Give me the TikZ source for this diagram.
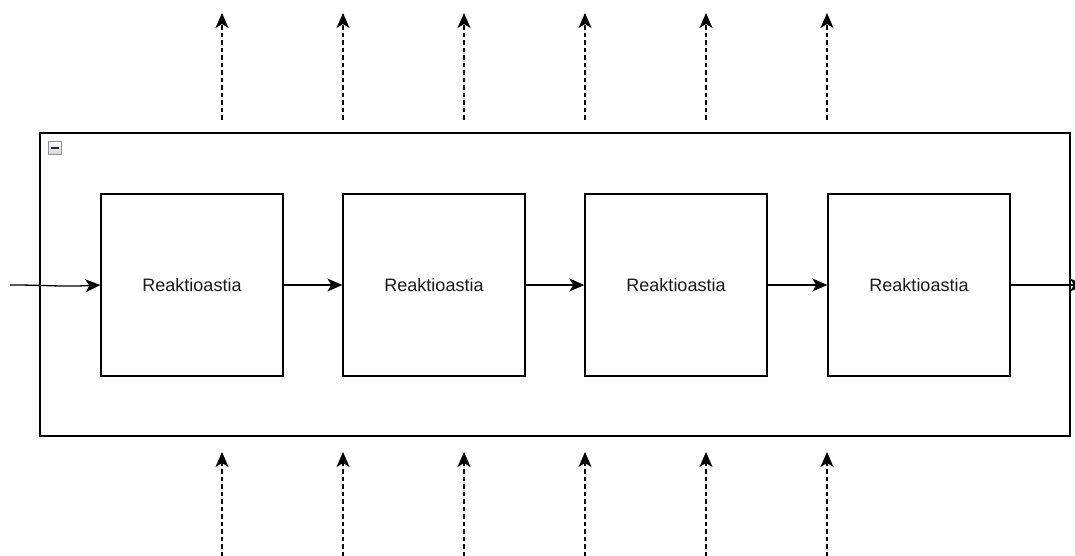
\documentclass[tikz,border=0pt]{standalone}
\usepackage{fontspec}
\setmainfont{Liberation Sans}
\usetikzlibrary{arrows.meta}
\definecolor{txt}{HTML}{1A1A1A}
\definecolor{icb}{HTML}{8A93A3}
\tikzset{
  stage/.style={draw=black, line width=1.3pt, minimum width=182pt, minimum height=182pt, inner sep=0pt, font=\fontsize{18}{21}\selectfont, text=txt},
  tip/.style={-{Stealth[length=15pt,width=13pt,inset=4pt]}},
  flow/.style={draw=black, line width=1.3pt, tip},
  vent/.style={draw=black, line width=1.3pt, dash pattern=on 4.5pt off 3pt, tip},
  frame/.style={draw=black, line width=1.3pt},
}
\begin{document}
\begin{tikzpicture}[x=1pt,y=-1pt]
\useasboundingbox (0,0) rectangle (1075,556);
\clip (0,0) rectangle (1075,556);
\fill[white] (0,0) rectangle (1075,556);
\node[frame, minimum width=1030pt, minimum height=303pt, inner sep=0pt] (outer) at (555,284.5) {};
% collapse icon
\node[draw=icb, line width=1pt, top color=white, bottom color=gray!35, minimum size=13pt, inner sep=0pt] (icon) at (54.5,148.5) {};
\draw[line width=2pt, black!85] ([xshift=-4pt]icon.center) -- ([xshift=4pt]icon.center);
% stages
\node[stage] (s1) at (192,285) {Reaktioastia};
\node[stage] (s2) at (434,285) {Reaktioastia};
\node[stage] (s3) at (676,285) {Reaktioastia};
\node[stage] (s4) at (919,285) {Reaktioastia};
\coordinate (in) at (10,285);
\coordinate (out) at (1085,285);
\draw[flow] (in) .. controls (50,285) and (60,287) .. (s1.west);
\draw[flow] (s1) -- (s2);
\draw[flow] (s2) -- (s3);
\draw[flow] (s3) -- (s4);
\draw[flow] (s4) -- (out);
% vents
\foreach \i/\x in {1/222,2/343,3/464,4/585,5/706,6/827}{
  \coordinate (ta\i) at (\x,120);
  \coordinate (tb\i) at (\x,13);
  \coordinate (ba\i) at (\x,556);
  \coordinate (bb\i) at (\x,452);
  \draw[vent] (ta\i) -- (tb\i);
  \draw[vent] (ba\i) -- (bb\i);
}
\end{tikzpicture}
\end{document}
